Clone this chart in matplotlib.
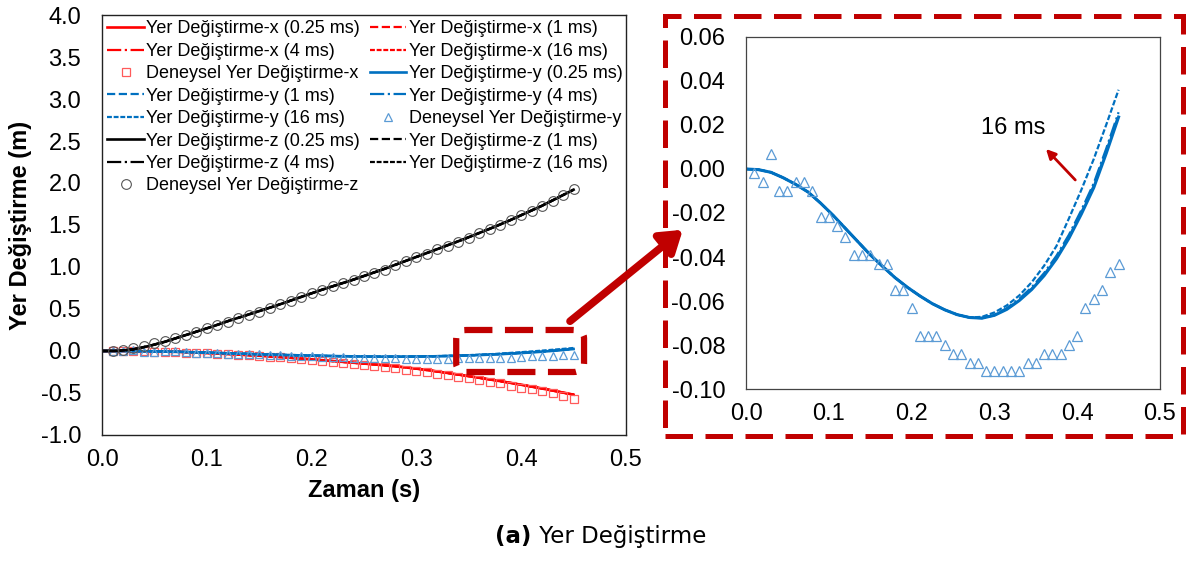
import matplotlib
matplotlib.use('Agg')
import matplotlib.pyplot as plt
import numpy as np
from matplotlib.ticker import FormatStrFormatter
from matplotlib.patches import FancyBboxPatch, Rectangle, FancyArrowPatch

plt.rcParams['font.family'] = ['Liberation Sans', 'DejaVu Sans']
plt.rcParams['axes.unicode_minus'] = False

# simulation time (s)
t_sim = [0.0, 0.015, 0.03, 0.045, 0.06, 0.075, 0.09, 0.105, 0.12, 0.135, 0.15,
         0.165, 0.18, 0.195, 0.21, 0.225, 0.24, 0.255, 0.27, 0.285, 0.30,
         0.315, 0.33, 0.345, 0.36, 0.375, 0.39, 0.405, 0.42, 0.435, 0.45]

# displacement x (m), time steps coincide
x_025 = [0.0, -0.0005, -0.002, -0.004, -0.007, -0.011, -0.019, -0.027, -0.036, -0.046, -0.056,
         -0.068, -0.081, -0.095, -0.110, -0.125, -0.140, -0.155, -0.171, -0.189, -0.210,
         -0.235, -0.262, -0.290, -0.319, -0.349, -0.380, -0.413, -0.447, -0.483, -0.520]
x_1 = x_025
x_4 = x_025
x_16 = x_025

# displacement y (m)
y_025 = [0.0, -0.0003, -0.0015, -0.0040, -0.0070, -0.0105, -0.0155, -0.0210, -0.0270, -0.0330, -0.0390,
         -0.0443, -0.0494, -0.0538, -0.0577, -0.0612, -0.0640, -0.0662, -0.0675, -0.0678, -0.0665,
         -0.0638, -0.0598, -0.0548, -0.0485, -0.0408, -0.0315, -0.0205, -0.0085, 0.0070, 0.0236]
y_1 = [0.0, -0.0003, -0.0015, -0.0040, -0.0070, -0.0105, -0.0155, -0.0210, -0.0270, -0.0330, -0.0390,
       -0.0443, -0.0494, -0.0538, -0.0577, -0.0612, -0.0640, -0.0662, -0.0675, -0.0678, -0.0665,
       -0.0636, -0.0595, -0.0544, -0.0480, -0.0402, -0.0308, -0.0197, -0.0076, 0.0080, 0.0245]
y_4 = [0.0, -0.0003, -0.0015, -0.0040, -0.0070, -0.0105, -0.0155, -0.0210, -0.0270, -0.0330, -0.0390,
       -0.0443, -0.0494, -0.0538, -0.0577, -0.0612, -0.0640, -0.0662, -0.0675, -0.0677, -0.0663,
       -0.0632, -0.0590, -0.0538, -0.0473, -0.0394, -0.0299, -0.0187, -0.0065, 0.0092, 0.0258]
y_16 = [0.0, -0.0003, -0.0015, -0.0040, -0.0070, -0.0105, -0.0155, -0.0210, -0.0270, -0.0330, -0.0390,
        -0.0443, -0.0494, -0.0538, -0.0577, -0.0612, -0.0640, -0.0662, -0.0675, -0.0672, -0.0652,
        -0.0620, -0.0575, -0.0515, -0.0440, -0.0350, -0.0225, -0.0095, 0.0045, 0.0200, 0.0360]

# displacement z (m)
z_025 = [0.0, 0.001, 0.02, 0.06, 0.11, 0.17, 0.23, 0.29, 0.355, 0.415, 0.475,
         0.535, 0.60, 0.665, 0.73, 0.79, 0.85, 0.915, 0.98, 1.05, 1.12,
         1.19, 1.26, 1.33, 1.405, 1.48, 1.56, 1.645, 1.73, 1.825, 1.92]
z_1 = z_025
z_4 = z_025
z_16 = z_025

# experiment
t_exp = [0.01, 0.02, 0.03, 0.04, 0.05, 0.06, 0.07, 0.08, 0.09, 0.10,
         0.11, 0.12, 0.13, 0.14, 0.15, 0.16, 0.17, 0.18, 0.19, 0.20,
         0.21, 0.22, 0.23, 0.24, 0.25, 0.26, 0.27, 0.28, 0.29, 0.30,
         0.31, 0.32, 0.33, 0.34, 0.35, 0.36, 0.37, 0.38, 0.39, 0.40,
         0.41, 0.42, 0.43, 0.44, 0.45]
x_exp = [0.000, -0.002, -0.004, -0.006, -0.009, -0.012, -0.015, -0.019, -0.023, -0.028,
         -0.033, -0.038, -0.044, -0.051, -0.058, -0.066, -0.075, -0.085, -0.096, -0.107,
         -0.118, -0.130, -0.142, -0.154, -0.167, -0.180, -0.194, -0.208, -0.223, -0.238,
         -0.254, -0.270, -0.290, -0.308, -0.327, -0.346, -0.366, -0.387, -0.420, -0.440,
         -0.458, -0.480, -0.505, -0.535, -0.570]
y_exp = [-0.002, -0.006, 0.007, -0.010, -0.010, -0.006, -0.006, -0.010, -0.022, -0.022,
         -0.026, -0.031, -0.039, -0.039, -0.039, -0.043, -0.043, -0.055, -0.055, -0.063,
         -0.076, -0.076, -0.076, -0.080, -0.084, -0.084, -0.088, -0.088, -0.092, -0.092,
         -0.092, -0.092, -0.092, -0.088, -0.088, -0.084, -0.084, -0.084, -0.080, -0.076,
         -0.063, -0.059, -0.055, -0.047, -0.043]
z_exp = [0.00, 0.01, 0.04, 0.06, 0.09, 0.12, 0.16, 0.19, 0.23, 0.27,
         0.31, 0.35, 0.39, 0.43, 0.47, 0.51, 0.555, 0.60, 0.645, 0.69,
         0.73, 0.77, 0.81, 0.85, 0.89, 0.93, 0.97, 1.02, 1.07, 1.12,
         1.16, 1.21, 1.25, 1.30, 1.35, 1.40, 1.45, 1.50, 1.56, 1.62,
         1.67, 1.73, 1.79, 1.86, 1.93]

red = '#FF0000'
red_m = '#FF5A5A'
blue = '#0070C0'
blue_m = '#5B9BD5'
dark_red = '#C00000'

styles = [('-', 1.9), ('--', 1.6), ('-.', 1.6), ((0, (2.2, 0.8)), 1.6)]
steps = ['0.25 ms', '1 ms', '4 ms', '16 ms']

fig = plt.figure(figsize=(11.88, 5.62), dpi=100)
ax = fig.add_axes([0.0859, 0.226, 0.441, 0.7473])

for ys, col in [([x_025, x_1, x_4, x_16], red), ([y_025, y_1, y_4, y_16], blue), ([z_025, z_1, z_4, z_16], 'black')]:
    axis = {red: 'x', blue: 'y', 'black': 'z'}[col]
    for ser, (ls, lw), st in zip(ys, styles, steps):
        ax.plot(t_sim, ser, color=col, linestyle=ls, linewidth=lw,
                label='Yer Değiştirme-' + axis + ' (' + st + ')')
    if axis == 'x':
        ax.plot(t_exp, x_exp, 's', mfc='none', mec=red_m, ms=5.5, mew=0.9,
                label='Deneysel Yer Değiştirme-x')
    elif axis == 'y':
        ax.plot(t_exp, y_exp, '^', mfc='none', mec=blue_m, ms=6, mew=0.9,
                label='Deneysel Yer Değiştirme-y')
    else:
        ax.plot(t_exp, z_exp, 'o', mfc='none', mec='#555555', ms=7, mew=0.8,
                label='Deneysel Yer Değiştirme-z')

ax.set_xlim(0, 0.5)
ax.set_ylim(-1.0, 4.0)
ax.set_xticks(np.arange(0, 0.51, 0.1))
ax.set_yticks(np.arange(-1.0, 4.01, 0.5))
ax.xaxis.set_major_formatter(FormatStrFormatter('%.1f'))
ax.yaxis.set_major_formatter(FormatStrFormatter('%.1f'))
ax.tick_params(axis='both', length=0, labelsize=17)
ax.tick_params(axis='x', pad=10)
ax.tick_params(axis='y', pad=15)
ax.set_xlabel('Zaman (s)', fontsize=17, fontweight='bold', labelpad=6)
ax.set_ylabel('Yer Değiştirme (m)', fontsize=17, fontweight='bold', labelpad=6)
for s in ax.spines.values():
    s.set_linewidth(1.0)
    s.set_color('#222222')

h, l = ax.get_legend_handles_labels()
order = list(range(0, 15, 2)) + list(range(1, 15, 2))
ax.legend([h[i] for i in order], [l[i] for i in order], ncol=2, loc='upper left',
          frameon=False, fontsize=13, handlelength=2.0, handletextpad=0.15,
          columnspacing=0.55, labelspacing=0.3, borderaxespad=0.1, borderpad=0.2)

# zoom box on main axes
ax.add_patch(FancyBboxPatch((0.338, -0.25), 0.122, 0.5, boxstyle='round,pad=0.0,rounding_size=0.01',
                            transform=ax.transData, fill=False, ec=dark_red, lw=4.5,
                            linestyle=(0, (4.5, 2)), mutation_aspect=10, zorder=5))

# inset
axi = fig.add_axes([0.628, 0.3078, 0.3484, 0.6264])
axi.plot(t_sim, y_025, color=blue, linewidth=2.2)
axi.plot(t_sim, y_1, color=blue, linewidth=1.6, linestyle='--')
axi.plot(t_sim, y_4, color=blue, linewidth=1.6, linestyle='-.')
axi.plot(t_sim, y_16, color=blue, linewidth=1.6, linestyle=(0, (2.5, 1)))
axi.plot(t_exp, y_exp, '^', mfc='none', mec=blue_m, ms=6.5, mew=0.9)
axi.set_xlim(0, 0.5)
axi.set_ylim(-0.10, 0.06)
axi.set_xticks(np.arange(0, 0.51, 0.1))
axi.set_yticks(np.arange(-0.10, 0.061, 0.02))
axi.xaxis.set_major_formatter(FormatStrFormatter('%.1f'))
axi.yaxis.set_major_formatter(FormatStrFormatter('%.2f'))
axi.tick_params(axis='both', length=0, labelsize=17)
axi.tick_params(axis='x', pad=10)
axi.tick_params(axis='y', pad=15)
for s in axi.spines.values():
    s.set_linewidth(0.9)
    s.set_color('#444444')
axi.text(0.362, 0.0186, '16 ms', fontsize=17, ha='right', va='center')
axi.annotate('', xy=(0.360, 0.010), xytext=(0.400, -0.0059),
             arrowprops=dict(arrowstyle='-|>', color=dark_red, lw=2, mutation_scale=14))

# dashed frame around inset
fig.patches.append(Rectangle((0.5598, 0.2242), 0.436, 0.7473, transform=fig.transFigure,
                             fill=False, ec=dark_red, lw=3.6, linestyle=(0, (5.5, 2.5))))
# arrow from box to inset
fig.patches.append(FancyArrowPatch((0.478, 0.4253), (0.5766, 0.5943), transform=fig.transFigure,
                                   arrowstyle='-|>,head_length=0.9,head_width=0.6', color=dark_red,
                                   lw=5.5, mutation_scale=14))

# caption
t1 = fig.text(0.417, 0.033, '(a)', fontsize=16.5, fontweight='bold', family='DejaVu Sans',
              ha='left', va='baseline')
plt.annotate(' Yer Değiştirme', xy=(1, 0), xycoords=t1, fontsize=16.5, family='DejaVu Sans',
             ha='left', va='bottom', annotation_clip=False)

fig.savefig('out.png', dpi=100)
